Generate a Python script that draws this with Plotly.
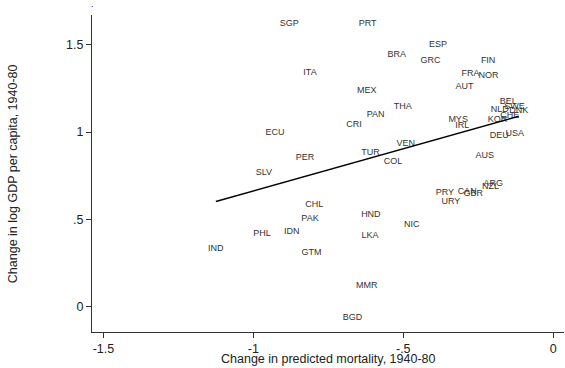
import numpy as np
import plotly.graph_objects as go

countries = ["SGP", "PRT", "ITA", "MEX", "PAN", "CRI", "ECU", "ESP", "BRA", "GRC",
             "FIN", "FRA", "NOR", "AUT", "BEL", "THA", "NLD", "SWE", "DNK", "CHE",
             "KOR", "MYS", "IRL", "DEU", "USA", "VEN", "AUS", "COL", "PRY", "CAN",
             "GBR", "NZL", "ARG", "URY", "NIC", "TUR", "PER", "SLV", "CHL", "PAK",
             "HND", "PHL", "IDN", "LKA", "IND", "GTM", "MMR", "BGD"]

mortality_change = [-0.880, -0.619, -0.811, -0.622, -0.592, -0.664, -0.928, -0.384, -0.522, -0.409,
                    -0.217, -0.276, -0.216, -0.296, -0.150, -0.502, -0.178, -0.129, -0.115, -0.145,
                    -0.186, -0.317, -0.303, -0.180, -0.128, -0.492, -0.228, -0.534, -0.361, -0.287,
                    -0.267, -0.209, -0.200, -0.341, -0.472, -0.609, -0.828, -0.965, -0.797, -0.811,
                    -0.608, -0.971, -0.872, -0.611, -1.125, -0.806, -0.622, -0.669]

gdp_change = [1.618, 1.618, 1.339, 1.236, 1.097, 1.040, 0.996, 1.502, 1.445, 1.408,
              1.408, 1.336, 1.325, 1.259, 1.172, 1.145, 1.130, 1.143, 1.120, 1.094,
              1.069, 1.073, 1.038, 0.979, 0.989, 0.931, 0.864, 0.830, 0.653, 0.658,
              0.649, 0.687, 0.701, 0.601, 0.468, 0.884, 0.853, 0.767, 0.582, 0.502,
              0.525, 0.416, 0.428, 0.405, 0.330, 0.309, 0.118, -0.066]

x_tickvals = [-1.5, -1.0, -0.5, 0.0]
x_ticktext = ["-1.5", "-1", "-.5", "0"]
y_tickvals = [0.0, 0.5, 1.0, 1.5]
y_ticktext = ["0", ".5", "1", "1.5"]

FONT = "Liberation Sans, Arial, sans-serif"

xs = np.array(mortality_change)
ys = np.array(gdp_change)
slope, intercept = np.polyfit(xs, ys, 1)
fit_x = np.array([xs.min(), xs.max()])
fit_y = intercept + slope * fit_x

fig = go.Figure()
fig.add_trace(go.Scatter(
    x=xs, y=ys, mode="text", text=countries, textposition="middle center",
    textfont=dict(family=FONT, size=9, color="#333333"), hoverinfo="text",
    showlegend=False))
fig.add_trace(go.Scatter(
    x=fit_x, y=fit_y, mode="lines", line=dict(color="black", width=1.5),
    showlegend=False, hoverinfo="skip"))

fig.update_layout(
    width=565, height=368,
    margin=dict(l=92, r=1, t=15, b=36),
    paper_bgcolor="white", plot_bgcolor="white",
    font=dict(family=FONT, color="#222222"),
    xaxis=dict(range=[-1.538, 0.036], tickvals=x_tickvals, ticktext=x_ticktext,
               showgrid=False, zeroline=False, showline=True, linecolor="#333333",
               linewidth=1, ticks="outside", ticklen=5, tickcolor="#333333",
               tickfont=dict(family=FONT, size=12.5, color="#222222")),
    yaxis=dict(range=[-0.145, 1.670], tickvals=y_tickvals, ticktext=y_ticktext,
               showgrid=False, zeroline=False, showline=True, linecolor="#333333",
               linewidth=1, ticks="outside", ticklen=5, tickcolor="#333333",
               tickfont=dict(family=FONT, size=12.5, color="#222222")),
    annotations=[
        dict(text="Change in predicted mortality, 1940-80", xref="paper", yref="paper",
             x=0.5, y=-0.057, xanchor="center", yanchor="top", showarrow=False,
             font=dict(family=FONT, size=12.5, color="#222222")),
        dict(text="Change in log GDP per capita, 1940-80", xref="paper", yref="paper",
             x=-0.168, y=0.5, xanchor="center", yanchor="middle", textangle=-90,
             showarrow=False, font=dict(family=FONT, size=12.5, color="#222222")),
        dict(text=".", xref="paper", yref="paper", x=0.002, y=1.036,
             xanchor="center", yanchor="middle", showarrow=False,
             font=dict(family=FONT, size=9, color="#222222")),
    ],
)

fig.write_html("out.html")
